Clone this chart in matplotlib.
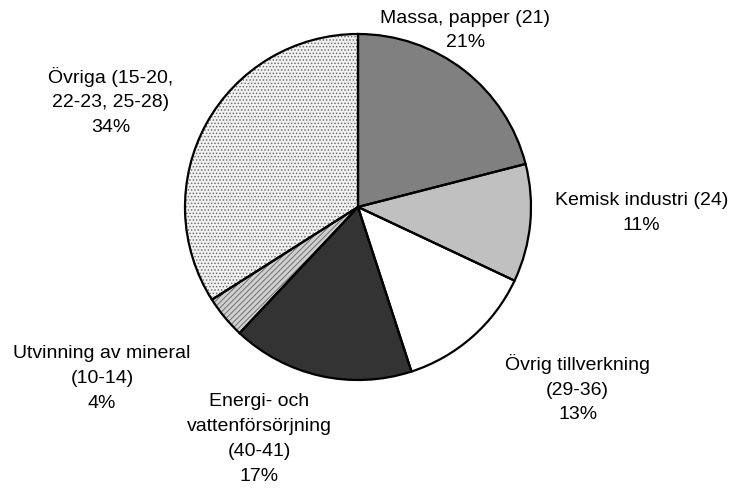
import matplotlib
matplotlib.use('Agg')
import matplotlib.pyplot as plt

# Andelar per bransch (SNI-koder), medurs från kl. 12
labels = ['Massa, papper (21)', 'Kemisk industri (24)', 'Övrig tillverkning\n(29-36)',
          'Energi- och\nvattenförsörjning\n(40-41)', 'Utvinning av mineral\n(10-14)',
          'Övriga (15-20,\n22-23, 25-28)']
shares = [21, 11, 13, 17, 4, 34]

colors = ['#808080', '#c0c0c0', '#ffffff', '#333333', '#d0d0d0', '#f2f2f2']
hatches = [None, None, None, None, '//////', '.....']
# textpositioner i pajens koordinater (radie 1)
label_pos = [(0.62, 1.02), (1.64, -0.035), (1.27, -1.05), (-0.57, -1.34),
             (-1.48, -0.99), (-1.43, 0.61)]

plt.rcParams['font.family'] = ['Liberation Sans', 'DejaVu Sans']
plt.rcParams['hatch.linewidth'] = 0.7

fig = plt.figure(figsize=(7.38, 4.90), dpi=100)
ax = fig.add_axes([185 / 738, 110 / 490, 346 / 738, 346 / 490])

# fyllning (mönstret ritas i grått via kantfärgen)
wedges, _ = ax.pie(shares, startangle=90, counterclock=False, colors=colors,
                   radius=1, wedgeprops=dict(edgecolor='#707070', linewidth=0))
for w, h in zip(wedges, hatches):
    if h:
        w.set_hatch(h)
# svarta konturer ovanpå
ax.pie(shares, startangle=90, counterclock=False, radius=1,
       wedgeprops=dict(facecolor='none', edgecolor='black', linewidth=1.6))

for lab, val, (x, y) in zip(labels, shares, label_pos):
    ax.text(x, y, f'{lab}\n{val}%', ha='center', va='center', fontsize=14,
            linespacing=1.6, clip_on=False)

ax.set_xlim(-1, 1)
ax.set_ylim(-1, 1)
ax.set_aspect('equal')
ax.axis('off')

fig.savefig('out.png', dpi=100)
